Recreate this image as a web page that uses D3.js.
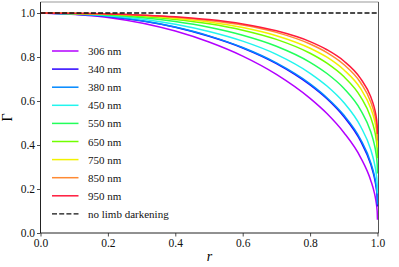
<!DOCTYPE html>
<html>
<head>
<meta charset="utf-8">
<script src="https://cdn.jsdelivr.net/npm/d3@7"></script>
<style>
  body { margin: 0; background: #fff; }
  svg text { font-family: "Liberation Serif", "Times New Roman", Tinos, "DejaVu Serif", "Noto Serif", serif; }
</style>
</head>
<body>
<div id="chart"></div>
<script>
// Radius samples (r) and the intensity
const radii = [0, 0.2, 0.4, 0.5, 0.6, 0.7, 0.8, 0.85, 0.9, 0.95, 0.98, 0.99, 0.995, 0.999, 1.0];

const gamma306 = [1, 0.980, 0.918, 0.868, 0.804, 0.721, 0.612, 0.543, 0.457, 0.343, 0.239, 0.187, 0.149, 0.100, 0.060];
const gamma340 = [1, 0.984, 0.935, 0.894, 0.841, 0.770, 0.673, 0.610, 0.529, 0.417, 0.312, 0.257, 0.217, 0.164, 0.120];
const gamma380 = [1, 0.985, 0.936, 0.896, 0.843, 0.773, 0.678, 0.615, 0.536, 0.425, 0.320, 0.266, 0.227, 0.174, 0.130];
const gamma450 = [1, 0.988, 0.949, 0.916, 0.872, 0.812, 0.726, 0.668, 0.593, 0.484, 0.379, 0.323, 0.282, 0.226, 0.180];
const gamma550 = [1, 0.991, 0.961, 0.935, 0.899, 0.849, 0.776, 0.725, 0.658, 0.559, 0.460, 0.407, 0.368, 0.315, 0.270];
const gamma650 = [1, 0.993, 0.971, 0.951, 0.922, 0.880, 0.817, 0.772, 0.711, 0.619, 0.525, 0.474, 0.436, 0.384, 0.340];
const gamma750 = [1, 0.995, 0.976, 0.959, 0.934, 0.897, 0.840, 0.799, 0.742, 0.656, 0.567, 0.519, 0.482, 0.432, 0.390];
const gamma850 = [1, 0.996, 0.981, 0.966, 0.945, 0.912, 0.859, 0.820, 0.766, 0.683, 0.596, 0.548, 0.512, 0.462, 0.420];
const gamma950 = [1, 0.996, 0.983, 0.970, 0.950, 0.919, 0.870, 0.833, 0.782, 0.702, 0.619, 0.573, 0.539, 0.491, 0.450];

const seriesNames = ["306 nm", "340 nm", "380 nm", "450 nm", "550 nm", "650 nm", "750 nm", "850 nm", "950 nm"];
const seriesValues = [gamma306, gamma340, gamma380, gamma450, gamma550, gamma650, gamma750, gamma850, gamma950];
const seriesColors = ["#b300ff", "#2a00ff", "#0088ff", "#22f5ee", "#22ff5a", "#70ff00", "#f2f200", "#ff8a33", "#ff1a3c"];

const xTicks = [0, 0.2, 0.4, 0.6, 0.8, 1.0];
const yTicks = [0, 0.2, 0.4, 0.6, 0.8, 1.0];

const serif = "'Liberation Serif', 'Times New Roman', Tinos, 'DejaVu Serif', 'Noto Serif', serif";

const W = 399, H = 267;
const margin = { top: 2, right: 20.5, bottom: 34, left: 40.5 };

const svg = d3.select("#chart")
    .append("svg")
    .attr("width", W)
    .attr("height", H);

const x = d3.scaleLinear()
    .domain([0, 1.003])
    .range([margin.left, W - margin.right]);

const y = d3.scaleLinear()
    .domain([0, 1.05])
    .range([H - margin.bottom, margin.top]);

// Curves
const line = d3.line()
    .x(d => x(d[0]))
    .y(d => y(d[1]))
    .curve(d3.curveMonotoneX);

seriesValues.forEach((vals, i) => {
    svg.append("path")
        .datum(radii.map((r, j) => [r, vals[j]]))
        .attr("fill", "none")
        .attr("stroke", seriesColors[i])
        .attr("stroke-width", 1.5)
        .attr("d", line);
});

// No limb darkening reference
svg.append("line")
    .attr("x1", x(0))
    .attr("x2", x(1))
    .attr("y1", y(1))
    .attr("y2", y(1))
    .attr("stroke", "#111")
    .attr("stroke-width", 1.4)
    .attr("stroke-dasharray", "5,2.2");

// Axes
const xAxis = svg.append("g")
    .attr("transform", `translate(0,${H - margin.bottom})`)
    .call(d3.axisBottom(x).tickValues(xTicks).tickFormat(d3.format(".1f")).tickSize(3.5).tickPadding(2));

const yAxis = svg.append("g")
    .attr("transform", `translate(${margin.left},0)`)
    .call(d3.axisLeft(y).tickValues(yTicks).tickFormat(d3.format(".1f")).tickSize(3.5).tickPadding(2));

[xAxis, yAxis].forEach(g => {
    g.attr("font-family", null);
    g.select(".domain").remove();
    g.selectAll("line").attr("stroke", "#222").attr("stroke-width", 0.8);
    g.selectAll("text")
        .attr("fill", "#111")
        .style("font-size", "11.5px")
        .style("font-family", serif);
});

// Frame
const x0 = margin.left, x1 = W - margin.right, y0 = margin.top, y1 = H - margin.bottom;
svg.append("line").attr("x1", x0).attr("x2", x1).attr("y1", y0).attr("y2", y0)
    .attr("stroke", "#999").attr("stroke-width", 1);
svg.append("line").attr("x1", x1).attr("x2", x1).attr("y1", y0).attr("y2", y1)
    .attr("stroke", "#555").attr("stroke-width", 1);
svg.append("line").attr("x1", x0).attr("x2", x0).attr("y1", y0).attr("y2", y1)
    .attr("stroke", "#222").attr("stroke-width", 1);
svg.append("line").attr("x1", x0).attr("x2", x1).attr("y1", y1).attr("y2", y1)
    .attr("stroke", "#222").attr("stroke-width", 1);

// Axis labels
svg.append("text")
    .attr("x", (x0 + x1) / 2)
    .attr("y", 261)
    .attr("text-anchor", "middle")
    .style("font-family", serif)
    .style("font-size", "14px")
    .style("font-style", "italic")
    .text("r");

svg.append("text")
    .attr("transform", `translate(12,${(y0 + y1) / 2}) rotate(-90)`)
    .attr("text-anchor", "middle")
    .style("font-family", serif)
    .style("font-size", "14px")
    .text("Γ");

// Legend
const legend = svg.append("g")
    .attr("transform", "translate(52,51)");

const legendNames = seriesNames.concat(["no limb darkening"]);

legendNames.forEach((name, i) => {
    const row = legend.append("g")
        .attr("transform", `translate(0,${i * 18.1})`);
    const isRef = i === seriesNames.length;
    row.append("line")
        .attr("x1", 0)
        .attr("x2", 26.5)
        .attr("stroke", isRef ? "#111" : seriesColors[i])
        .attr("stroke-width", isRef ? 1.4 : 1.5)
        .attr("stroke-dasharray", isRef ? "5,2.2" : null);
    row.append("text")
        .attr("x", 36)
        .attr("y", 4)
        .style("font-family", serif)
        .style("font-size", "11px")
        .attr("fill", "#111")
        .text(name);
});
</script>
</body>
</html>
